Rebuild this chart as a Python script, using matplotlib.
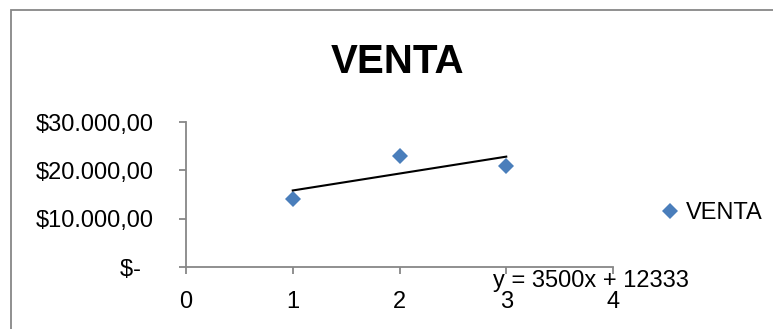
#!/usr/bin/env python3

import numpy as np
import matplotlib
matplotlib.use('Agg')
import matplotlib.pyplot as plt
from matplotlib.patches import Rectangle

plt.rcParams['font.family'] = ['Liberation Sans', 'DejaVu Sans']

# data
x_vals = [1, 2, 3]
venta = [14000, 23000, 21000]
y_ticks = [0, 10000, 20000, 30000]
y_labels = ['$-  ', '$10.000,00', '$20.000,00', '$30.000,00']
x_ticks = [0, 1, 2, 3, 4]

AXIS_GREY = '#878787'
BLUE = '#4A7EBB'
FS = 17

fig = plt.figure(figsize=(7.73, 3.29), dpi=100)
ax = fig.add_axes([186/773, 1 - 267/329, (613 - 186)/773, (267 - 122)/329])

# outer chart border (Excel style)
fig.patches.append(Rectangle((11/773, -0.1), 1.2, 1 - 10/329 + 0.1,
                             transform=fig.transFigure, fill=False,
                             edgecolor=AXIS_GREY, linewidth=1.3))

ax.plot(x_vals, venta, linestyle='none', marker='D', markersize=8,
        color=BLUE, markeredgewidth=0, label='VENTA', clip_on=False)

''' linear trendline '''
slope, intercept = np.polyfit(x_vals, venta, 1)
xs = np.array([min(x_vals), max(x_vals)])
ax.plot(xs, slope*xs + intercept, color='black', linewidth=1.5)
ax.text(2.88, -2800, f'y = {slope:.0f}x + {intercept:.0f}', fontsize=FS,
        va='center', ha='left', clip_on=False)

ax.set_xlim(0, 4)
ax.set_ylim(0, 30000)
ax.set_xticks(x_ticks)
ax.set_yticks(y_ticks)
ax.set_yticklabels(y_labels)

for side in ['top', 'right']:
    ax.spines[side].set_visible(False)
for side in ['left', 'bottom']:
    ax.spines[side].set_color(AXIS_GREY)
    ax.spines[side].set_linewidth(1.3)

ax.tick_params(axis='both', direction='out', length=5, width=1.3,
               color=AXIS_GREY, labelsize=FS)
ax.tick_params(axis='y', pad=18)
ax.tick_params(axis='x', pad=12)

fig.text(398/773, 1 - 62/329, 'VENTA', fontsize=29, fontweight='bold',
         ha='center', va='center')

fig.legend(loc='center left', bbox_to_anchor=(659/773, 1 - 213/329),
           frameon=False, fontsize=FS, borderpad=0, handlelength=0.9,
           handletextpad=0.25, borderaxespad=0)

fig.savefig('out.png', dpi=100)
